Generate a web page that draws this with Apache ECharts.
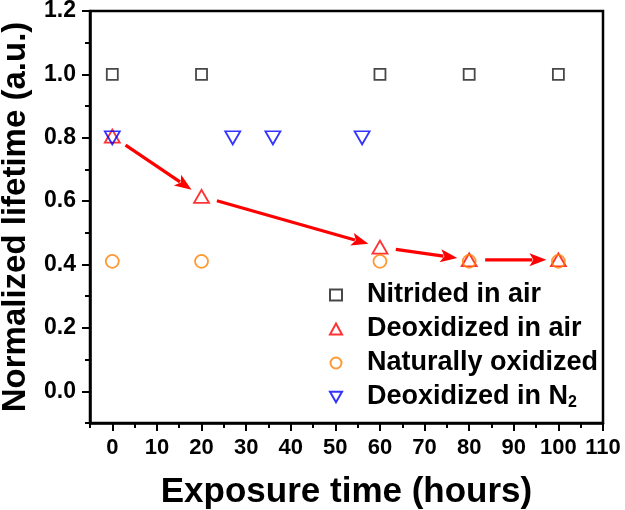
<!DOCTYPE html>
<html>
<head>
<meta charset="utf-8">
<script src="https://cdn.jsdelivr.net/npm/echarts@6/dist/echarts.min.js"></script>
<style>html,body{margin:0;padding:0;background:#fff}#c{width:625px;height:510px}</style>
</head>
<body>
<div id="c"></div>
<script>
// ---- data ----
const nitridedAirX = [0, 20, 60, 80, 100];
const nitridedAirY = [1.0, 1.0, 1.0, 1.0, 1.0];
const deoxAirX = [0, 20, 60, 80, 100];
const deoxAirY = [0.805, 0.615, 0.455, 0.415, 0.415];
const natOxX = [0, 20, 60, 80, 100];
const natOxY = [0.41, 0.41, 0.41, 0.41, 0.41];
const deoxN2X = [0, 27, 36, 56];
const deoxN2Y = [0.80, 0.80, 0.80, 0.80];
const seriesNames = ['Nitrided in air', 'Deoxidized in air', 'Naturally oxidized', 'Deoxidized in N2'];
const yMajorTicks = [0, 0.2, 0.4, 0.6, 0.8, 1.0, 1.2];
const xMajorTicks = [0, 10, 20, 30, 40, 50, 60, 70, 80, 90, 100, 110];

const FONT = '"Liberation Sans", Arial, sans-serif';
const zip = (xs, ys) => xs.map((x, i) => [x, ys[i]]);
const arrowSegs = deoxAirX.slice(0, -1).map((x, i) => [x, deoxAirY[i], deoxAirX[i + 1], deoxAirY[i + 1]]);
const downTri = 'path://M0,0 L12,0 L6,10.4 Z';

const chart = echarts.init(document.getElementById('c'), null, {renderer: 'canvas'});
const hollow = (c) => ({color: 'rgba(0,0,0,0)', borderColor: c, borderWidth: 1.8});

const option = {
  animation: false,
  backgroundColor: '#fff',
  grid: {left: 90, right: 22, top: 11, bottom: 87, containLabel: false, outerBoundsMode: 'none',
    show: true, borderColor: '#000', borderWidth: 2.5, backgroundColor: 'transparent'},
  xAxis: [{
    type: 'value', min: -5, max: 110, interval: 5,
    name: 'Exposure time (hours)', nameLocation: 'middle', nameGap: 52,
    nameTextStyle: {fontFamily: FONT, fontWeight: 'bold', fontSize: 35, color: '#000'},
    axisLine: {show: true, onZero: false, lineStyle: {color: '#000', width: 2.5}},
    axisTick: {show: true, inside: false, length: 5, lineStyle: {color: '#000', width: 2}},
    axisLabel: {show: true, margin: 14, fontFamily: FONT, fontWeight: 'bold', fontSize: 22, color: '#000',
      formatter: v => (Math.round(v) % 10 === 0 && v >= 0) ? String(Math.round(v)) : ''},
    splitLine: {show: false}
  }, {
    type: 'value', min: -5, max: 110, position: 'bottom', offset: 0,
    axisLine: {show: false, onZero: false},
    axisTick: {show: true, length: 8, customValues: xMajorTicks, lineStyle: {color: '#000', width: 2}},
    axisLabel: {show: false},
    splitLine: {show: false}
  }],
  yAxis: [{
    type: 'value', min: -0.1, max: 1.2, interval: 0.1,
    name: 'Normalized lifetime (a.u.)', nameLocation: 'middle', nameGap: 58,
    nameTextStyle: {fontFamily: FONT, fontWeight: 'bold', fontSize: 33, color: '#000'},
    axisLine: {show: true, onZero: false, lineStyle: {color: '#000', width: 2.5}},
    axisTick: {show: true, inside: false, length: 5, lineStyle: {color: '#000', width: 2}},
    axisLabel: {show: true, margin: 14, fontFamily: FONT, fontWeight: 'bold', fontSize: 23, color: '#000',
      formatter: v => { const r = Math.round(v * 10); return (r % 2 === 0) ? (r / 10).toFixed(1) : ''; }},
    splitLine: {show: false}
  }, {
    type: 'value', min: -0.1, max: 1.2, position: 'left', offset: 0,
    axisLine: {show: false, onZero: false},
    axisTick: {show: true, length: 8, customValues: yMajorTicks, lineStyle: {color: '#000', width: 2}},
    axisLabel: {show: false},
    splitLine: {show: false}
  }],
  legend: {
    data: seriesNames,
    orient: 'vertical', left: 324, top: 276,
    itemWidth: 12, itemHeight: 11, itemGap: 6,
    symbolKeepAspect: true,
    textStyle: {fontFamily: FONT, fontWeight: 'bold', fontSize: 27, lineHeight: 28, color: '#000', padding: [0, 0, 0, 20],
      rich: {sub: {fontFamily: FONT, fontWeight: 'bold', fontSize: 16, lineHeight: 4, verticalAlign: 'bottom', color: '#000'}}},
    formatter: n => n === 'Deoxidized in N2' ? 'Deoxidized in N{sub|2}' : n,
    selectedMode: false
  },
  series: [{
    type: 'custom', name: 'arrows', xAxisIndex: 0, yAxisIndex: 0, silent: true,
    data: arrowSegs,
    encode: {x: [0, 2], y: [1, 3]},
    renderItem: (params, api) => {
      const p0 = api.coord([api.value(0), api.value(1)]);
      const p1 = api.coord([api.value(2), api.value(3)]);
      const dx = p1[0] - p0[0], dy = p1[1] - p0[1];
      const L = Math.sqrt(dx * dx + dy * dy);
      const ux = dx / L, uy = dy / L, nx = -uy, ny = ux;
      const s = [p0[0] + ux * 16, p0[1] + uy * 16];
      const e = [p1[0] - ux * 12, p1[1] - uy * 12];
      const hl = 17, hw = 6.5;
      const b = [e[0] - ux * hl, e[1] - uy * hl];
      return {
        type: 'group',
        children: [{
          type: 'line', shape: {x1: s[0], y1: s[1], x2: b[0] + ux * 3, y2: b[1] + uy * 3},
          style: {stroke: '#ff0000', lineWidth: 3.2}
        }, {
          type: 'polygon', shape: {points: [e, [b[0] + nx * hw, b[1] + ny * hw], [b[0] + ux * 4, b[1] + uy * 4], [b[0] - nx * hw, b[1] - ny * hw]]},
          style: {fill: '#ff0000'}
        }]
      };
    }
  }, {
    type: 'scatter', name: seriesNames[0], data: zip(nitridedAirX, nitridedAirY),
    symbol: 'rect', symbolSize: 11, itemStyle: hollow('#1a1a1a')
  }, {
    type: 'scatter', name: seriesNames[1], data: zip(deoxAirX, deoxAirY),
    symbol: 'triangle', symbolSize: [15, 13], itemStyle: hollow('#ff0000')
  }, {
    type: 'scatter', name: seriesNames[2], data: zip(natOxX, natOxY),
    symbol: 'circle', symbolSize: 13, itemStyle: hollow('#ff7f00')
  }, {
    type: 'scatter', name: seriesNames[3], data: zip(deoxN2X, deoxN2Y),
    symbol: downTri, symbolSize: [15, 13], itemStyle: hollow('#0000ff')
  }]
};
chart.setOption(option);
</script>
</body>
</html>
